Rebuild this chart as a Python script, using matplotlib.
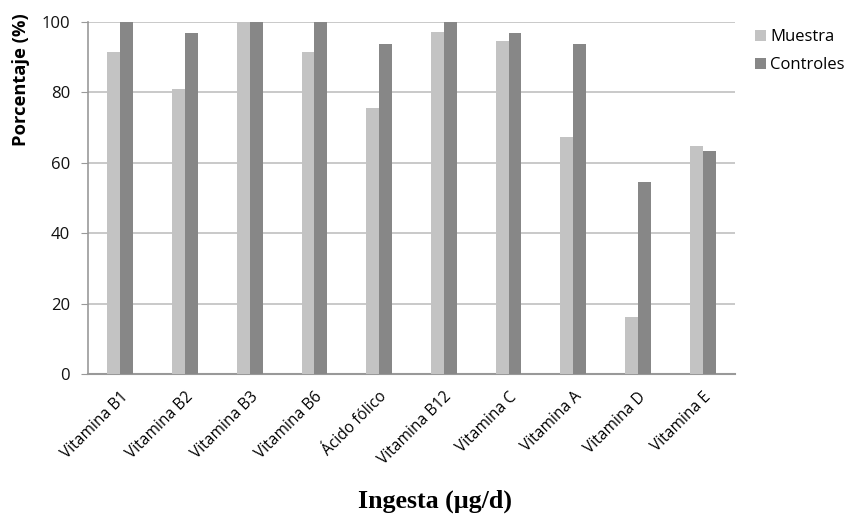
import matplotlib
matplotlib.use("Agg")
import matplotlib.pyplot as plt
import matplotlib.transforms as mtransforms
import numpy as np

categories = ["Vitamina B1", "Vitamina B2", "Vitamina B3", "Vitamina B6", "Ácido fólico",
              "Vitamina B12", "Vitamina C", "Vitamina A", "Vitamina D", "Vitamina E"]
muestra = [91.6, 80.9, 100, 91.6, 75.5, 97.1, 94.5, 67.4, 16.3, 64.9]
controles = [100, 96.8, 100, 100, 93.7, 100, 96.8, 93.7, 54.5, 63.4]
yticks = [0, 20, 40, 60, 80, 100]

plt.rcParams['font.family'] = ['Open Sans', 'DejaVu Sans']

fig = plt.figure(figsize=(8.48, 5.14), dpi=100)
ax = fig.add_axes([0.1038, 0.2724, 0.7629, 0.6848])

x = np.arange(len(categories))
w = 0.2
ax.bar(x - w / 2, muestra, w, color="#c3c3c3", label="Muestra", zorder=3)
ax.bar(x + w / 2, controles, w, color="#878787", label="Controles", zorder=3)

ax.set_xlim(-0.5, len(categories) - 0.5)
ax.set_ylim(0, 100)
ax.set_yticks(yticks)
ax.yaxis.grid(True, color="#c0c0c0", linewidth=1.2, zorder=0)
ax.set_axisbelow(True)
for s in ["top", "right"]:
    ax.spines[s].set_visible(False)
ax.spines["left"].set_color("#999999")
ax.spines["bottom"].set_color("#999999")
ax.spines["left"].set_linewidth(1.2)
ax.spines["bottom"].set_linewidth(1.5)
ax.tick_params(axis="y", colors="#999999", length=5, labelcolor="#111111", labelsize=12, pad=8)
ax.tick_params(axis="x", length=0, labelsize=11.2)

ax.set_xticks(x)
ax.set_xticklabels(categories, rotation=45, ha="right", rotation_mode="anchor")
for lbl in ax.get_xticklabels():
    lbl.set_transform(lbl.get_transform() + mtransforms.ScaledTranslation(0.0, -0.10, fig.dpi_scale_trans))

ax.set_ylabel("Porcentaje (%)", fontsize=13.2, fontweight="bold")
ax.yaxis.set_label_coords(-0.09, 0.835)

fig.text(0.513, 0.025, "Ingesta (µg/d)", ha="center", va="center",
         fontsize=18.7, fontweight="bold", family="Liberation Serif")

leg = fig.legend(*ax.get_legend_handles_labels(), loc="upper left",
                 bbox_to_anchor=(747 / 848, 1 - 21 / 514), frameon=False, borderpad=0,
                 fontsize=12, handlelength=0.65, handleheight=0.65, handletextpad=0.25,
                 labelspacing=0.7)

fig.savefig("out.png", dpi=100)
